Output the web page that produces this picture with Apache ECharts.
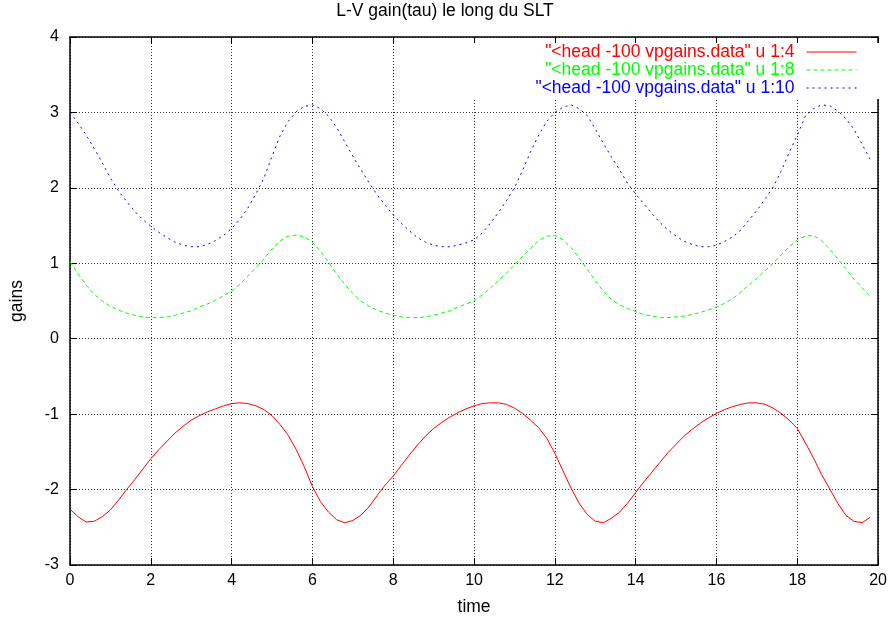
<!DOCTYPE html>
<html>
<head>
<meta charset="utf-8">
<script src="https://cdn.jsdelivr.net/npm/echarts@6/dist/echarts.min.js"></script>
<style>
html,body{margin:0;padding:0;background:#fff;}
#chart{width:890px;height:621px;}
</style>
</head>
<body>
<div id="chart"></div>
<script>
// time values (column 1)
var time = [0,0.2,0.4,0.6,0.8,1,1.2,1.4,1.6,1.8,
  2,2.2,2.4,2.6,2.8,3,3.2,3.4,3.6,3.8,
  4,4.2,4.4,4.6,4.8,5,5.2,5.4,5.6,5.8,
  6,6.2,6.4,6.6,6.8,7,7.2,7.4,7.6,7.8,
  8,8.2,8.4,8.6,8.8,9,9.2,9.4,9.6,9.8,
  10,10.2,10.4,10.6,10.8,11,11.2,11.4,11.6,11.8,
  12,12.2,12.4,12.6,12.8,13,13.2,13.4,13.6,13.8,
  14,14.2,14.4,14.6,14.8,15,15.2,15.4,15.6,15.8,
  16,16.2,16.4,16.6,16.8,17,17.2,17.4,17.6,17.8,
  18,18.2,18.4,18.6,18.8,19,19.2,19.4,19.6,19.8];

// column 4 (red)
var col4 = [-2.26,-2.36,-2.43,-2.42,-2.36,-2.27,-2.14,-2.00,-1.87,-1.73,
  -1.59,-1.47,-1.36,-1.25,-1.16,-1.08,-1.02,-0.97,-0.93,-0.89,
  -0.86,-0.85,-0.86,-0.89,-0.94,-1.02,-1.14,-1.28,-1.47,-1.70,
  -1.96,-2.16,-2.30,-2.40,-2.44,-2.41,-2.34,-2.23,-2.08,-1.94,
  -1.82,-1.68,-1.54,-1.41,-1.29,-1.19,-1.11,-1.04,-0.98,-0.93,
  -0.89,-0.86,-0.85,-0.85,-0.87,-0.92,-0.99,-1.08,-1.18,-1.32,
  -1.52,-1.75,-1.98,-2.18,-2.33,-2.42,-2.44,-2.38,-2.30,-2.18,
  -2.04,-1.90,-1.77,-1.64,-1.51,-1.40,-1.29,-1.20,-1.12,-1.05,
  -0.99,-0.94,-0.90,-0.87,-0.85,-0.85,-0.87,-0.92,-0.99,-1.08,
  -1.19,-1.38,-1.58,-1.80,-1.99,-2.18,-2.34,-2.42,-2.44,-2.37];

// column 8 (green)
var col8 = [1.02,0.86,0.71,0.59,0.50,0.43,0.38,0.34,0.31,0.29,
  0.28,0.28,0.29,0.31,0.34,0.37,0.42,0.46,0.51,0.57,
  0.63,0.72,0.83,0.94,1.06,1.19,1.30,1.36,1.375,1.35,
  1.28,1.16,1.01,0.86,0.72,0.60,0.50,0.43,0.38,0.34,
  0.31,0.29,0.28,0.28,0.29,0.31,0.34,0.37,0.42,0.46,
  0.50,0.58,0.67,0.77,0.87,0.98,1.09,1.20,1.30,1.36,
  1.37,1.31,1.21,1.07,0.92,0.77,0.63,0.52,0.45,0.40,
  0.36,0.32,0.30,0.28,0.28,0.29,0.30,0.32,0.35,0.38,
  0.42,0.47,0.53,0.62,0.71,0.80,0.90,1.00,1.11,1.22,
  1.31,1.36,1.37,1.30,1.19,1.06,0.93,0.79,0.68,0.56];

// column 10 (blue)
var col10 = [3.00,2.86,2.70,2.52,2.33,2.13,1.96,1.82,1.69,1.58,
  1.49,1.41,1.34,1.28,1.24,1.22,1.22,1.25,1.30,1.37,
  1.46,1.58,1.73,1.92,2.13,2.42,2.69,2.88,3.01,3.08,
  3.10,3.05,2.95,2.80,2.61,2.42,2.24,2.07,1.91,1.77,
  1.64,1.53,1.43,1.34,1.28,1.24,1.22,1.22,1.24,1.27,
  1.31,1.40,1.53,1.67,1.83,2.00,2.23,2.48,2.70,2.88,
  3.00,3.07,3.10,3.05,2.96,2.78,2.59,2.41,2.24,2.06,
  1.92,1.79,1.66,1.54,1.44,1.36,1.29,1.25,1.22,1.22,
  1.24,1.29,1.35,1.44,1.57,1.70,1.85,2.01,2.22,2.47,
  2.70,2.95,3.05,3.10,3.09,3.02,2.92,2.78,2.58,2.38];

var seriesNames = ['"<head -100 vpgains.data" u 1:4',
                   '"<head -100 vpgains.data" u 1:8',
                   '"<head -100 vpgains.data" u 1:10'];
var seriesColors = ['#ff0000', '#00ff00', '#0000ff'];
var titleText = 'L-V gain(tau) le long du SLT';
var xName = 'time';
var yName = 'gains';

var FONT = '"Liberation Sans", Arial, Helvetica, sans-serif';
function pairs(ys){ return time.map(function(t,i){ return [t, ys[i]]; }); }

var chart = echarts.init(document.getElementById('chart'), null, {renderer:'canvas'});
var gridLine = {show:true, lineStyle:{color:'#333', width:1, type:[1,2]}};
var option = {
  animation:false,
  backgroundColor:'#fff',
  textStyle:{fontFamily:FONT},
  title:{text:titleText, left:'center', top:2, padding:0,
    textStyle:{fontSize:17.5, fontWeight:'normal', color:'#000', fontFamily:FONT}},
  grid:{left:67, right:10, top:37, bottom:56, show:false},
  legend:{
    orient:'vertical', align:'right', right:11, top:43,
    itemWidth:50, itemHeight:18, itemGap:0,
    padding:[0,22,2,78], backgroundColor:'#fff',
    selectedMode:false,
    itemStyle:{opacity:0},
    lineStyle:{width:1},
    textStyle:{fontSize:17.5, fontFamily:FONT, padding:[0,7,0,0]},
    data:[
      {name:seriesNames[0], textStyle:{color:seriesColors[0]}},
      {name:seriesNames[1], textStyle:{color:seriesColors[1]}},
      {name:seriesNames[2], textStyle:{color:seriesColors[2]}}
    ]
  },
  xAxis:[{
    type:'value', min:0, max:20, interval:2, position:'bottom',
    name:xName, nameLocation:'middle', nameGap:33,
    nameTextStyle:{fontSize:17.5, color:'#000', fontFamily:FONT},
    axisLine:{show:true, onZero:false, lineStyle:{color:'#000', width:1.5}},
    axisTick:{show:true, inside:true, length:7, lineStyle:{color:'#000', width:1}},
    axisLabel:{show:true, margin:8, fontSize:16, color:'#000', fontFamily:FONT},
    splitLine:gridLine
  },{
    type:'value', min:0, max:20, interval:2, position:'top',
    axisLine:{show:true, onZero:false, lineStyle:{color:'#000', width:1.5}},
    axisTick:{show:true, inside:true, length:7, lineStyle:{color:'#000', width:1}},
    axisLabel:{show:false}, splitLine:{show:false}
  }],
  yAxis:[{
    type:'value', min:-3, max:4, interval:1, position:'left',
    name:yName, nameLocation:'middle', nameGap:44,
    nameTextStyle:{fontSize:17.5, color:'#000', fontFamily:FONT},
    axisLine:{show:true, onZero:false, lineStyle:{color:'#000', width:1.5}},
    axisTick:{show:true, inside:true, length:7, lineStyle:{color:'#000', width:1}},
    axisLabel:{show:true, margin:11, fontSize:16, color:'#000', fontFamily:FONT},
    splitLine:gridLine
  },{
    type:'value', min:-3, max:4, interval:1, position:'right',
    axisLine:{show:true, onZero:false, lineStyle:{color:'#000', width:1.5}},
    axisTick:{show:true, inside:true, length:7, lineStyle:{color:'#000', width:1}},
    axisLabel:{show:false}, splitLine:{show:false}
  }],
  series:[
    {name:seriesNames[0], type:'line', data:pairs(col4), symbol:'none', showSymbol:false,
      xAxisIndex:0, yAxisIndex:0, color:seriesColors[0],
      lineStyle:{color:seriesColors[0], width:1, type:'solid'}},
    {name:seriesNames[1], type:'line', data:pairs(col8), symbol:'none', showSymbol:false,
      xAxisIndex:0, yAxisIndex:0, color:seriesColors[1],
      lineStyle:{color:seriesColors[1], width:1, type:[4,3]}},
    {name:seriesNames[2], type:'line', data:pairs(col10), symbol:'none', showSymbol:false,
      xAxisIndex:0, yAxisIndex:0, color:seriesColors[2],
      lineStyle:{color:seriesColors[2], width:1, type:[2,4]}}
  ]
};
chart.setOption(option);
</script>
</body>
</html>
